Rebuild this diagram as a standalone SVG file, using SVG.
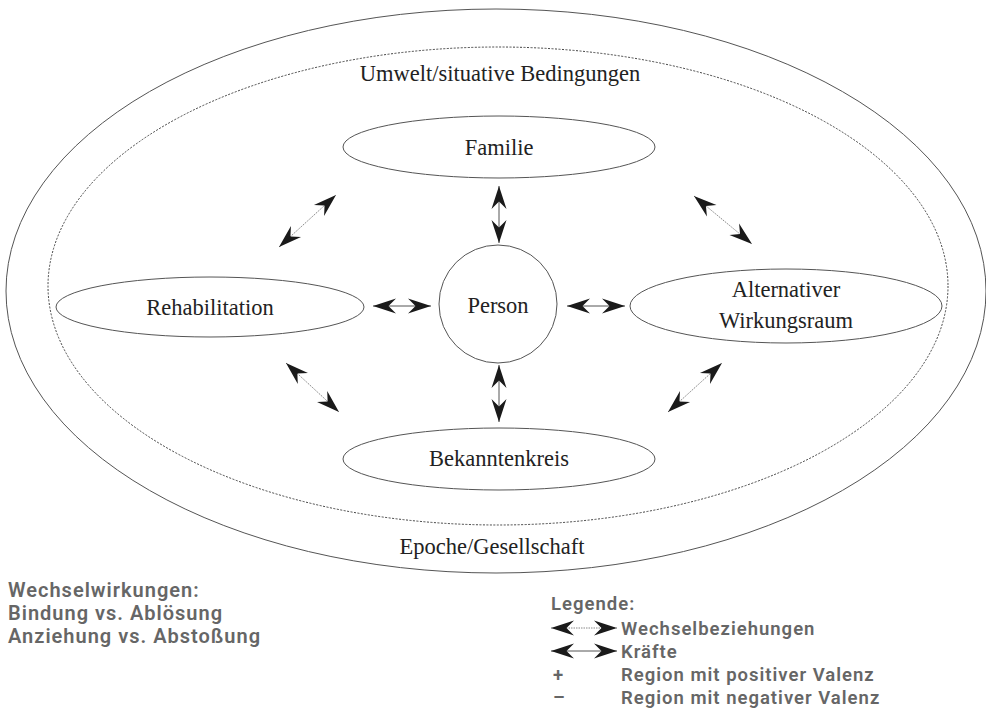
<svg xmlns="http://www.w3.org/2000/svg" width="986" height="716" viewBox="0 0 986 716">
<style>
.ring{fill:none;stroke:#555;stroke-width:1}
.dot{fill:none;stroke:#444;stroke-width:1;stroke-dasharray:2 1.5}
.node{fill:#fff;stroke:#555;stroke-width:1}
.t{font-family:"Liberation Serif","Times New Roman",serif;font-size:22.5px;fill:#222;text-anchor:middle}
.lg{font-family:Roboto,"Liberation Sans",sans-serif;font-size:18.5px;font-weight:600;fill:#666;letter-spacing:1px}
.lw{font-size:20px}
.wb{stroke:#888;stroke-width:1;stroke-dasharray:1.5 1;marker-start:url(#ah);marker-end:url(#ah)}
.kr{stroke:#555;stroke-width:1;marker-start:url(#ah);marker-end:url(#ah)}
</style>
<defs>
<marker id="ah" markerUnits="userSpaceOnUse" viewBox="-24 -9 25 18" refX="0" refY="0" markerWidth="25" markerHeight="18" orient="auto-start-reverse">
<path d="M0,0 L-23,-7.5 L-15.5,0 L-23,7.5 Z" fill="#1a1a1a"/>
</marker>
</defs>
<rect width="986" height="716" fill="#fff"/>
<g id="epoche">
<ellipse class="ring" cx="496" cy="291" rx="490" ry="282"/>
<text class="t" x="492" y="554">Epoche/Gesellschaft</text>
</g>
<g id="umwelt">
<ellipse class="dot" cx="498" cy="286" rx="450" ry="239"/>
<text class="t" x="500" y="81">Umwelt/situative Bedingungen</text>
</g>
<g id="familie">
<ellipse class="node" cx="499" cy="147" rx="156" ry="31"/>
<text class="t" x="499" y="155">Familie</text>
</g>
<g id="rehabilitation">
<ellipse class="node" cx="210" cy="307" rx="154" ry="30"/>
<text class="t" x="210" y="315">Rehabilitation</text>
</g>
<g id="alternativer">
<ellipse class="node" cx="786" cy="306" rx="156" ry="37"/>
<text class="t" x="786" y="297">Alternativer</text>
<text class="t" x="786" y="328">Wirkungsraum</text>
</g>
<g id="bekanntenkreis">
<ellipse class="node" cx="499" cy="459" rx="156" ry="31"/>
<text class="t" x="499" y="466">Bekanntenkreis</text>
</g>
<g id="person">
<circle class="node" cx="498" cy="304" r="59"/>
<text class="t" x="498" y="313">Person</text>
</g>
<g id="connectors">
<line class="wb" x1="279" y1="247" x2="336" y2="195"/>
<line class="wb" x1="694" y1="196" x2="752" y2="244"/>
<line class="wb" x1="286" y1="363" x2="339" y2="412"/>
<line class="wb" x1="668" y1="412" x2="722" y2="363"/>
<line class="kr" x1="499" y1="186" x2="499" y2="243"/>
<line class="kr" x1="499" y1="365" x2="499" y2="422"/>
<line class="kr" x1="373" y1="306" x2="431" y2="306"/>
<line class="kr" x1="567" y1="306" x2="625" y2="306"/>
</g>
<g id="wechselwirkungen">
<text class="lg lw" x="8" y="597">Wechselwirkungen:</text>
<text class="lg lw" x="8" y="620">Bindung vs. Ablösung</text>
<text class="lg lw" x="8" y="643">Anziehung vs. Abstoßung</text>
</g>
<g id="legende">
<text class="lg" x="551" y="610">Legende:</text>
<line class="wb" x1="551" y1="628" x2="617" y2="628"/>
<text class="lg" x="621" y="635">Wechselbeziehungen</text>
<line class="kr" x1="551" y1="651" x2="617" y2="651"/>
<text class="lg" x="621" y="658">Kräfte</text>
<text class="lg" x="553" y="681">+</text>
<text class="lg" x="621" y="681">Region mit positiver Valenz</text>
<text class="lg" x="553" y="704">–</text>
<text class="lg" x="621" y="704">Region mit negativer Valenz</text>
</g>
</svg>
